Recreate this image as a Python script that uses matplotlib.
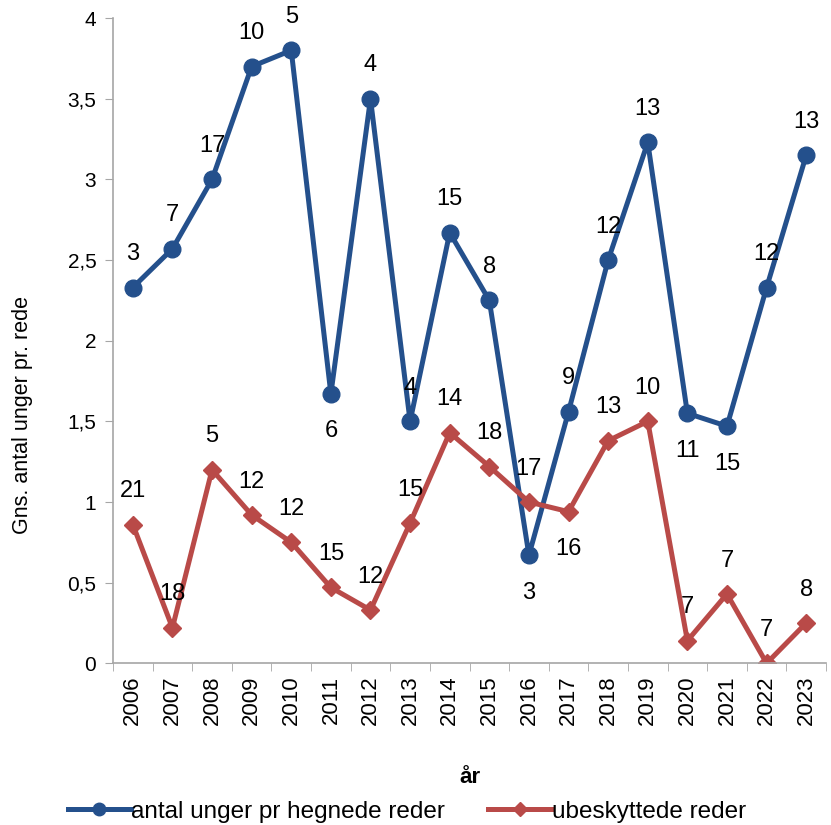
import matplotlib.pyplot as plt
import numpy as np

plt.rcParams['font.family'] = ['Liberation Sans', 'DejaVu Sans']

years = ['2006', '2007', '2008', '2009', '2010', '2011', '2012', '2013', '2014',
         '2015', '2016', '2017', '2018', '2019', '2020', '2021', '2022', '2023']

# gennemsnit unger pr rede
hegnede = [2.33, 2.57, 3.0, 3.7, 3.8, 1.67, 3.5, 1.5, 2.67,
           2.25, 0.67, 1.56, 2.5, 3.23, 1.55, 1.47, 2.33, 3.15]
ubeskyttede = [0.86, 0.22, 1.2, 0.92, 0.75, 0.47, 0.33, 0.87, 1.43,
               1.22, 1.0, 0.94, 1.38, 1.5, 0.14, 0.43, 0.0, 0.25]

# antal reder (datalabels)
n_hegnede = [3, 7, 17, 10, 5, 6, 4, 4, 15, 8, 3, 9, 12, 13, 11, 15, 12, 13]
n_ubeskyttede = [21, 18, 5, 12, 12, 15, 12, 15, 14, 18, 17, 16, 13, 10, 7, 7, 7, 8]

# labels placed under the point
below_hegnede = {'2011', '2016', '2020', '2021'}
below_ubeskyttede = {'2017'}

blue = '#24508c'
red = '#b94a48'
grey = '#a6a6a6'

fig = plt.figure(figsize=(8.31, 8.25), dpi=100)
ax = fig.add_axes([0.136, 0.196, 0.858, 0.782])

x = np.arange(len(years))
ax.plot(x, hegnede, color=blue, lw=3.6, marker='o', ms=12,
        label='antal unger pr hegnede reder')
ax.plot(x, ubeskyttede, color=red, lw=3.6, marker='D', ms=9,
        label='ubeskyttede reder')

for xi, yr, v, n in zip(x, years, hegnede, n_hegnede):
    dy = -27 if yr in below_hegnede else 24
    ax.annotate(str(n), (xi, v), xytext=(0, dy), textcoords='offset points',
                ha='center', va='center', fontsize=17)
for xi, yr, v, n in zip(x, years, ubeskyttede, n_ubeskyttede):
    dy = -27 if yr in below_ubeskyttede else 24
    ax.annotate(str(n), (xi, v), xytext=(0, dy), textcoords='offset points',
                ha='center', va='center', fontsize=17)

ax.set_xlim(-0.5, len(years) - 0.5)
ax.set_ylim(0, 4)
ax.set_yticks(np.arange(0, 4.01, 0.5))
ax.set_yticklabels([f'{t:g}'.replace('.', ',') for t in np.arange(0, 4.01, 0.5)])
ax.set_xticks(x)
ax.set_xticklabels(years, rotation=90)
ax.set_xticks(np.arange(-0.5, len(years)), minor=True)
ax.tick_params(axis='x', which='major', length=0, pad=9, labelsize=16)
ax.tick_params(axis='x', which='minor', length=6, color=grey)
ax.tick_params(axis='y', length=6, color=grey, labelsize=15, pad=6)

for side in ['top', 'right']:
    ax.spines[side].set_visible(False)
for side in ['left', 'bottom']:
    ax.spines[side].set_color(grey)
    ax.spines[side].set_linewidth(1.2)

ax.set_ylabel('Gns. antal unger pr. rede', fontsize=15.5)
ax.yaxis.set_label_coords(-0.112, 0.385)
ax.set_xlabel('år', fontsize=16, fontweight='bold', labelpad=30)

fig.legend(loc='center left', bbox_to_anchor=(0.055, 0.016), ncol=2, frameon=False,
           fontsize=17.5, handlelength=2.6, handletextpad=0.0, columnspacing=1.8,
           markerscale=0.75)

fig.savefig('out.png', dpi=100)
